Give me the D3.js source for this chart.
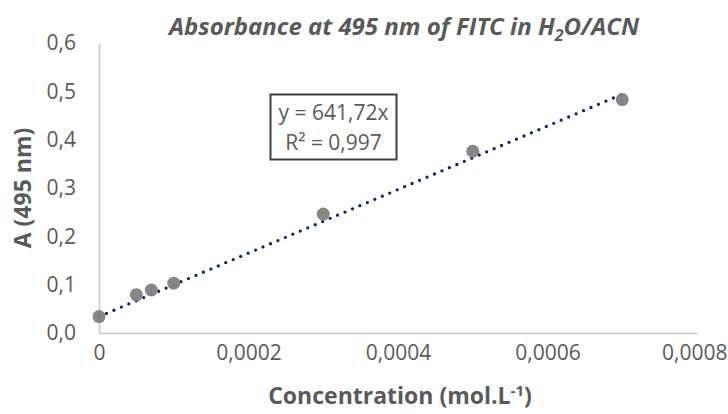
<!DOCTYPE html>
<html>
<head>
<meta charset="utf-8">
<script src="https://cdn.jsdelivr.net/npm/d3@7"></script>
<style>
  body { margin: 0; background: #fff; }
  svg { display: block; font-family: "Open Sans", sans-serif; }
</style>
</head>
<body>
<svg id="chart" width="728" height="414"></svg>
<script>
// measured points (concentration in mol/L, absorbance)
var concentrations = [0, 0.00005, 0.00007, 0.0001, 0.0003, 0.0005, 0.0007];
var absorbances = [0.034, 0.079, 0.089, 0.103, 0.246, 0.376, 0.483];

// dotted trendline ends as drawn
var trendX = [0, 0.0007];
var trendY = [0.034, 0.494];

var xTicks = [0, 0.0002, 0.0004, 0.0006, 0.0008];
var yTicks = [0, 0.1, 0.2, 0.3, 0.4, 0.5, 0.6];

var equationLines = ["y = 641,72x", "R² = 0,997"];

var svg = d3.select("#chart");
var grey = "#595959";

var x = d3.scaleLinear().domain([0, 0.0008]).range([99, 697]);
var y = d3.scaleLinear().domain([0, 0.6]).range([333, 43]);

// comma as decimal separator
var locale = d3.formatLocale({decimal: ",", thousands: " ", grouping: [3], currency: ["", ""]});
var fmtX = locale.format("~g");
var fmtY = locale.format(".1f");

/*
draws an axis without tick marks, light grey domain line and grey labels
*/
function drawAxis(axis, transform, cls){
    var g = svg.append("g")
        .attr("class", cls)
        .attr("transform", transform)
        .call(axis);
    g.select(".domain").attr("stroke", "#c8c8c8").attr("stroke-width", 1.6);
    g.selectAll(".tick line").remove();
    g.selectAll(".tick text")
        .attr("fill", grey)
        .style("font-size", "21px")
        .style("font-family", "'Open Sans', sans-serif");
    return g;
}

var xAxis = drawAxis(d3.axisBottom(x).tickValues(xTicks).tickSize(0).tickPadding(12).tickFormat(fmtX),
    "translate(0," + y(0) + ")", "x-axis");
drawAxis(d3.axisLeft(y).tickValues(yTicks).tickSize(0).tickPadding(23).tickFormat(fmtY),
    "translate(" + x(0) + ",0)", "y-axis");

// last label sits against the right edge, keep it inside
xAxis.selectAll(".tick text")
    .filter(function(d){ return d === xTicks[xTicks.length - 1]; })
    .attr("text-anchor", "end")
    .attr("dx", 30);

// trendline: round dots
svg.append("line")
    .attr("x1", x(trendX[0])).attr("y1", y(trendY[0]))
    .attr("x2", x(trendX[1])).attr("y2", y(trendY[1]))
    .attr("stroke", "#0b2466")
    .attr("stroke-width", 3.3)
    .attr("stroke-linecap", "round")
    .attr("stroke-dasharray", "0 8.1");

// markers
svg.append("g").selectAll("circle")
    .data(concentrations.map(function(c, i){ return [c, absorbances[i]]; }))
    .join("circle")
    .attr("cx", function(d){ return x(d[0]); })
    .attr("cy", function(d){ return y(d[1]); })
    .attr("r", 6.5)
    .attr("fill", "#7f7f7f")
    .attr("fill-opacity", 0.95);

// equation box
svg.append("rect")
    .attr("x", 270.5).attr("y", 94.5)
    .attr("width", 126).attr("height", 65)
    .attr("fill", "#fff")
    .attr("stroke", "#404040")
    .attr("stroke-width", 2);

svg.append("g").selectAll("text")
    .data(equationLines)
    .join("text")
    .attr("x", 333.5)
    .attr("y", function(d, i){ return 120 + i * 30; })
    .attr("text-anchor", "middle")
    .attr("fill", grey)
    .style("font-size", "21px")
    .text(function(d){ return d; });

// title with subscript
var title = svg.append("text")
    .attr("x", 404).attr("y", 35)
    .attr("text-anchor", "middle")
    .attr("fill", grey)
    .style("font-size", "24px")
    .style("font-weight", "bold")
    .style("font-style", "italic");
title.append("tspan").text("Absorbance at 495 nm of FITC in H");
title.append("tspan").attr("dy", 6).style("font-size", "16px").text("2");
title.append("tspan").attr("dy", -6).text("O/ACN");

// axis titles
var xTitle = svg.append("text")
    .attr("x", 400).attr("y", 404)
    .attr("text-anchor", "middle")
    .attr("fill", grey)
    .style("font-size", "23px")
    .style("font-weight", "bold");
xTitle.append("tspan").text("Concentration (mol.L");
xTitle.append("tspan").attr("dy", -8).style("font-size", "15px").text("-1");
xTitle.append("tspan").attr("dy", 8).text(")");

svg.append("text")
    .attr("transform", "translate(31,188) rotate(-90)")
    .attr("text-anchor", "middle")
    .attr("fill", grey)
    .style("font-size", "23px")
    .style("font-weight", "bold")
    .text("A (495 nm)");
</script>
</body>
</html>
